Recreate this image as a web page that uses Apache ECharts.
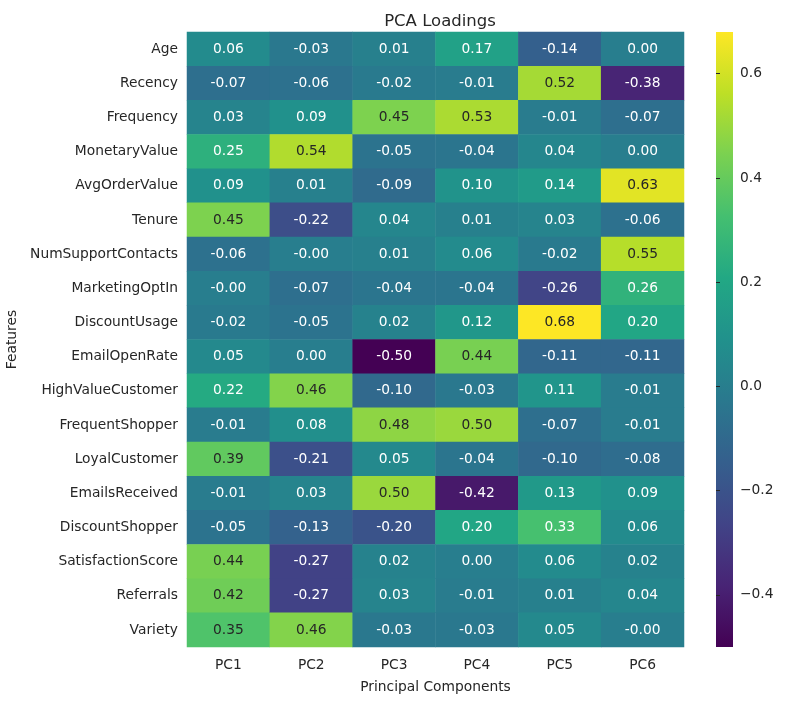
<!DOCTYPE html>
<html><head><meta charset="utf-8">
<script src="https://cdn.jsdelivr.net/npm/echarts@6/dist/echarts.min.js"></script>
<style>html,body{margin:0;padding:0;background:#fff}#c{width:799px;height:701px}</style>
</head><body><div id="c"></div>
<script>
const features = ["Age","Recency","Frequency","MonetaryValue","AvgOrderValue","Tenure","NumSupportContacts","MarketingOptIn","DiscountUsage","EmailOpenRate","HighValueCustomer","FrequentShopper","LoyalCustomer","EmailsReceived","DiscountShopper","SatisfactionScore","Referrals","Variety"];
const components = ["PC1","PC2","PC3","PC4","PC5","PC6"];
const PC1 = [0.06,-0.07,0.03,0.25,0.09,0.45,-0.06,-0.00,-0.02,0.05,0.22,-0.01,0.39,-0.01,-0.05,0.44,0.42,0.35];
const PC2 = [-0.03,-0.06,0.09,0.54,0.01,-0.22,-0.00,-0.07,-0.05,0.00,0.46,0.08,-0.21,0.03,-0.13,-0.27,-0.27,0.46];
const PC3 = [0.01,-0.02,0.45,-0.05,-0.09,0.04,0.01,-0.04,0.02,-0.50,-0.10,0.48,0.05,0.50,-0.20,0.02,0.03,-0.03];
const PC4 = [0.17,-0.01,0.53,-0.04,0.10,0.01,0.06,-0.04,0.12,0.44,-0.03,0.50,-0.04,-0.42,0.20,0.00,-0.01,-0.03];
const PC5 = [-0.14,0.52,-0.01,0.04,0.14,0.03,-0.02,-0.26,0.68,-0.11,0.11,-0.07,-0.10,0.13,0.33,0.06,0.01,0.05];
const PC6 = [0.00,-0.38,-0.07,0.00,0.63,-0.06,0.55,0.26,0.20,-0.11,-0.01,-0.01,-0.08,0.09,0.06,0.02,0.04,-0.00];
const colorbarTicks = [-0.4,-0.2,0.0,0.2,0.4,0.6];
const vmin = -0.50, vmax = 0.68;

const viridis = ['#440154','#482475','#414487','#355f8d','#2a788e','#21918c','#22a884','#44bf70','#7ad151','#bddf26','#fde725'];
const cols = [PC1,PC2,PC3,PC4,PC5,PC6];
function fmt(v){ const s = Math.abs(v).toFixed(2); return (v < 0 || Object.is(v,-0)) ? '-' + s : s; }
const data = [];
cols.forEach((arr,ci)=>arr.forEach((v,ri)=>data.push({
  value:[ci,ri,v],
  label:{formatter: fmt(v), color: v > 0.34 ? '#262626' : '#ffffff'}
})));

const font = 'DejaVu Sans';
const G = {left:187, top:32, width:497, height:615};
const CB = {left:716, top:32, width:17, height:615};

const chart = echarts.init(document.getElementById('c'), null, {renderer:'canvas'});
chart.setOption({
  animation:false,
  backgroundColor:'#fff',
  textStyle:{fontFamily:font},
  title:{text:'PCA Loadings', left:435, top:8, textAlign:'center',
    textStyle:{fontFamily:font, fontSize:16.5, fontWeight:'normal', color:'#262626'}},
  grid:[
    {left:G.left, top:G.top, width:G.width, height:G.height, containLabel:false, outerBoundsMode:'none'},
    {left:CB.left, top:CB.top, width:CB.width, height:CB.height, containLabel:false, outerBoundsMode:'none'}
  ],
  xAxis:[
    {type:'category', gridIndex:0, data:components, position:'bottom',
      name:'Principal Components', nameLocation:'middle', nameGap:33,
      nameTextStyle:{fontFamily:font, fontSize:13.8, color:'#262626'},
      axisLine:{show:false}, axisTick:{show:false}, splitLine:{show:false},
      axisLabel:{fontFamily:font, fontSize:13.8, color:'#262626', margin:11}},
    {type:'value', gridIndex:1, show:false, min:0, max:1}
  ],
  yAxis:[
    {type:'category', gridIndex:0, data:features, inverse:true,
      name:'Features', nameLocation:'middle', nameGap:158, nameRotate:90,
      nameTextStyle:{fontFamily:font, fontSize:13.8, color:'#262626'},
      axisLine:{show:false}, axisTick:{show:false}, splitLine:{show:false},
      axisLabel:{fontFamily:font, fontSize:13.8, color:'#262626', margin:9}},
    {type:'value', gridIndex:1, min:vmin, max:vmax, position:'right',
      axisLine:{show:false}, splitLine:{show:false},
      axisTick:{show:true, inside:false, length:4, lineStyle:{color:'#262626'}, customValues:colorbarTicks},
      axisLabel:{fontFamily:font, fontSize:13.8, color:'#262626', margin:7,
        customValues:colorbarTicks,
        formatter:v=>{const s=(Math.abs(v)<1e-9?0:v).toFixed(1);return s.replace('-','\u2212');}}}
  ],
  visualMap:{show:false, type:'continuous', min:vmin, max:vmax, dimension:2, seriesIndex:0,
    inRange:{color:viridis}},
  graphic:[{type:'rect', shape:{x:CB.left, y:CB.top, width:CB.width, height:CB.height}, silent:true, z:-1,
    style:{fill:new echarts.graphic.LinearGradient(0,1,0,0, viridis.map((c,i)=>({offset:i/(viridis.length-1), color:c})))}}],
  series:[{
    type:'heatmap', xAxisIndex:0, yAxisIndex:0, data:data,
    itemStyle:{borderWidth:0},
    label:{show:true, fontFamily:font, fontSize:13.8},
    emphasis:{disabled:true}
  }]
});
</script></body></html>
